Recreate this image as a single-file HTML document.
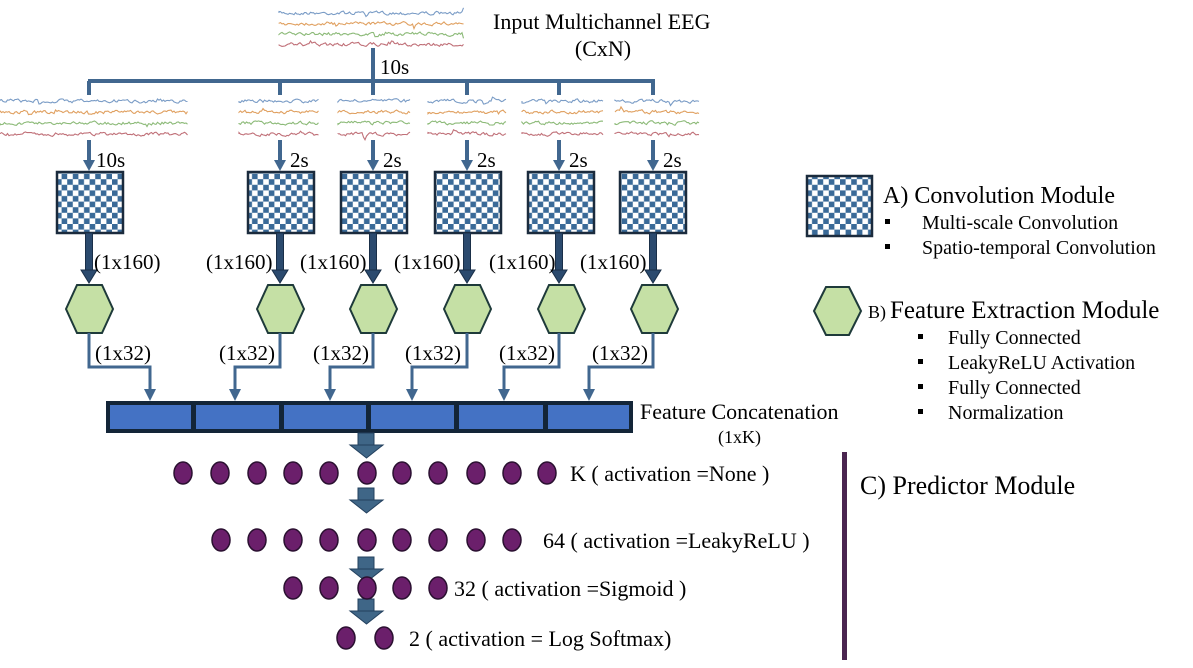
<!DOCTYPE html>
<html><head><meta charset="utf-8"><style>
html,body{margin:0;padding:0;background:#fff;width:1193px;height:668px;overflow:hidden}
svg{display:block}
text{font-family:"Liberation Serif",serif;fill:#000}
</style></head><body>
<svg id="s" width="1193" height="668" viewBox="0 0 1193 668" xmlns="http://www.w3.org/2000/svg">
<defs>
<pattern id="cb" width="11.2" height="11.2" patternUnits="userSpaceOnUse">
<rect width="11.2" height="11.2" fill="#fff"/>
<rect width="5.6" height="5.6" fill="#3a6a98"/>
<rect x="5.6" y="5.6" width="5.6" height="5.6" fill="#3a6a98"/>
</pattern>
</defs>
<g id="eeg"></g>
<g stroke="#41678f" stroke-width="4" fill="none">
<line x1="373" y1="48" x2="373" y2="81"/>
<line x1="88" y1="81" x2="655" y2="81"/>
<line x1="89" y1="81" x2="89" y2="95"/>
<line x1="280" y1="81" x2="280" y2="95"/>
<line x1="373" y1="81" x2="373" y2="95"/>
<line x1="467" y1="81" x2="467" y2="95"/>
<line x1="559" y1="81" x2="559" y2="95"/>
<line x1="653" y1="81" x2="653" y2="95"/>
</g>
<text x="380" y="74" font-size="21">10s</text>
<text x="493" y="29" font-size="22">Input Multichannel EEG</text>
<text x="603" y="56" font-size="22" text-anchor="middle">(CxN)</text>
<g id="cols"></g>
<g stroke="#41678f" stroke-width="3" fill="none">
<polyline points="89,333 89,367 150,367 150,392"/>
<polyline points="280,333 280,367 235,367 235,392"/>
<polyline points="373,333 373,367 330,367 330,392"/>
<polyline points="467,333 467,367 412,367 412,392"/>
<polyline points="559,333 559,367 504,367 504,392"/>
<polyline points="653,333 653,367 589,367 589,392"/>
</g>
<g fill="#41678f">
<polygon points="144,389 156,389 150,401"/>
<polygon points="229,389 241,389 235,401"/>
<polygon points="324,389 336,389 330,401"/>
<polygon points="406,389 418,389 412,401"/>
<polygon points="498,389 510,389 504,401"/>
<polygon points="583,389 595,389 589,401"/>
</g>
<rect x="106" y="401" width="527" height="32" fill="#132538"/>
<g fill="#4472c4">
<rect x="110" y="405" width="81" height="24"/>
<rect x="196" y="405" width="83" height="24"/>
<rect x="284" y="405" width="82" height="24"/>
<rect x="371" y="405" width="83" height="24"/>
<rect x="459" y="405" width="84" height="24"/>
<rect x="548" y="405" width="81" height="24"/>
</g>
<text x="640" y="419" font-size="22">Feature Concatenation</text>
<text x="718" y="443" font-size="18">(1xK)</text>
<g id="pred"></g>
<text x="570" y="481" font-size="22">K ( activation =None )</text>
<text x="543" y="548" font-size="22">64 ( activation =LeakyReLU )</text>
<text x="454" y="596" font-size="22">32 ( activation =Sigmoid )</text>
<text x="409" y="646" font-size="22">2 ( activation = Log Softmax)</text>
<rect x="842" y="452" width="5" height="208" fill="#4a2550"/>
<text x="860" y="494" font-size="26">C) Predictor Module</text>
<rect x="807" y="176" width="65" height="60" fill="url(#cb)" stroke="#1b2b3d" stroke-width="2.5"/>
<text x="883" y="203" font-size="24">A)  Convolution Module</text>
<rect x="885" y="219" width="5" height="5" fill="#000"/>
<text x="922" y="229" font-size="20">Multi-scale Convolution</text>
<rect x="885" y="244" width="5" height="5" fill="#000"/>
<text x="922" y="254" font-size="20">Spatio-temporal Convolution</text>
<polygon points="814,311 826,287 849,287 861,311 849,335 826,335" fill="#c5e0a5" stroke="#1e3a3a" stroke-width="2"/>
<text x="868" y="318" font-size="18">B)</text>
<text x="890" y="318" font-size="25">Feature Extraction Module</text>
<g font-size="20">
<rect x="918" y="334" width="5" height="5" fill="#000"/><text x="948" y="344">Fully Connected</text>
<rect x="918" y="359" width="5" height="5" fill="#000"/><text x="948" y="369">LeakyReLU Activation</text>
<rect x="918" y="384" width="5" height="5" fill="#000"/><text x="948" y="394">Fully Connected</text>
<rect x="918" y="409" width="5" height="5" fill="#000"/><text x="948" y="419">Normalization</text>
</g>
</svg>
<script>
var NS="http://www.w3.org/2000/svg";
function el(p,t,a){var e=document.createElementNS(NS,t);for(var k in a)e.setAttribute(k,a[k]);p.appendChild(e);return e;}
var seed=7;function rnd(){seed=(seed*16807)%2147483647;return seed/2147483647;}
var eeg=document.getElementById("eeg");
var cols=["#7a9cc6","#e0a060","#8cba78","#c07078"];
function trace(x0,x1,y0,h){for(var c=0;c<4;c++){var y=y0+c*h,d="M"+x0+","+y,v=0;for(var x=x0;x<=x1;x+=1.5){v=v*0.5+(rnd()-0.5)*3;if(rnd()<0.02)v+=(rnd()-0.5)*8;d+=" L"+x.toFixed(1)+","+(y+v).toFixed(1);}el(eeg,"path",{d:d,stroke:cols[c],"stroke-width":"1.1",fill:"none"});}}
trace(279,464,13,10.5);
trace(0,188,101,11);
var sn=[[239,319],[338,411],[428,507],[522,604],[615,699]];
sn.forEach(function(s){trace(s[0],s[1],101,11);});
var g=document.getElementById("cols");
var ax=[89,280,373,467,559,653];
var bx=[57,248,341,435,528,620];
var lab=["10s","2s","2s","2s","2s","2s"];
var l160=[94,206,300,394,489,580];
var l32=[95,219,313,405,499,592];
var hx=[66,257,350,444,538,631];
for(var i=0;i<6;i++){
 var x=ax[i];
 el(g,"line",{x1:x,y1:140,x2:x,y2:162,stroke:"#41678f","stroke-width":"4"});
 el(g,"polygon",{points:(x-6)+",160 "+(x+6)+",160 "+x+",171",fill:"#41678f"});
 var t=el(g,"text",{x:x+(i==0?7:10),y:167,"font-size":"21"});t.textContent=lab[i];
 el(g,"rect",{x:bx[i],y:172,width:66,height:61,fill:"url(#cb)",stroke:"#1b2b3d","stroke-width":"2.5"});
 el(g,"rect",{x:x-3.5,y:233,width:7,height:38,fill:"#2b4a6e",stroke:"#1a2f48","stroke-width":"1"});
 el(g,"polygon",{points:(x-8)+",270 "+(x+8)+",270 "+x+",283",fill:"#2b4a6e",stroke:"#1a2f48","stroke-width":"1"});
 t=el(g,"text",{x:l160[i],y:269,"font-size":"21"});t.textContent="(1x160)";
 var h=hx[i];
 el(g,"polygon",{points:h+",309 "+(h+11)+",285 "+(h+36)+",285 "+(h+47)+",309 "+(h+36)+",333 "+(h+11)+",333",fill:"#c5e0a5",stroke:"#1e3a3a","stroke-width":"2"});
 t=el(g,"text",{x:l32[i],y:360,"font-size":"21"});t.textContent="(1x32)";
}
var p=document.getElementById("pred");
function fat(y){el(p,"rect",{x:358,y:y,width:16,height:12,fill:"#3f6687",stroke:"#23405e","stroke-width":"1"});el(p,"polygon",{points:"350,"+(y+12)+" 383,"+(y+12)+" 366.5,"+(y+25),fill:"#3f6687",stroke:"#23405e","stroke-width":"1"});}
fat(433);fat(488);fat(557);fat(599);
function dots(xs,y){xs.forEach(function(x){el(p,"ellipse",{cx:x,cy:y,rx:9,ry:11,fill:"#6b1f6b",stroke:"#2a1030","stroke-width":"1.5"});});}
dots([183,220,257,293,329,367,402,438,476,512,547],473);
dots([221,257,293,329,367,402,438,476,512],540);
dots([293,329,367,402,438],588);
dots([346,384],638);
</script>
</body></html>
